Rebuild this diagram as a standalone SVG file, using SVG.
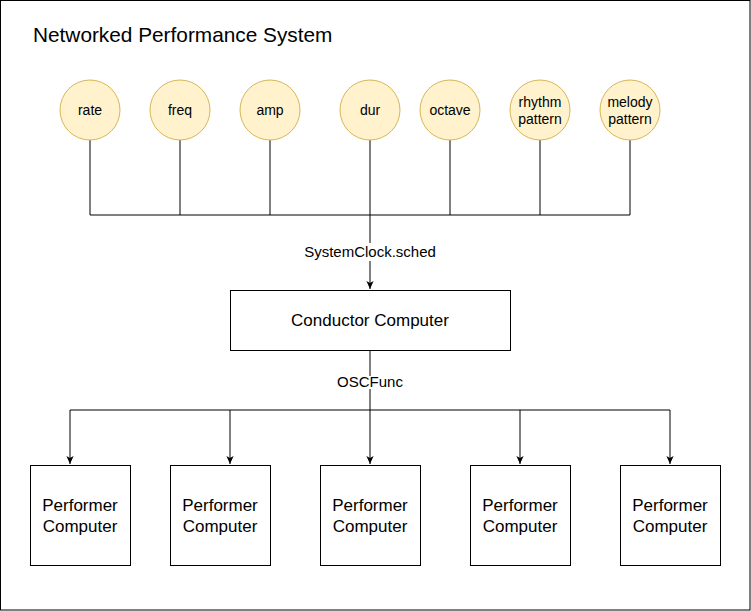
<svg xmlns="http://www.w3.org/2000/svg" width="751" height="611" viewBox="0 0 751 611">
<style>
text{font-family:"Liberation Sans",Arial,sans-serif;fill:#000;text-anchor:middle}
.p{fill:#fff2cc;stroke:#d6b656;stroke-width:1}
.b{fill:#fff;stroke:#000;stroke-width:1}
.c{fill:none;stroke:#000;stroke-width:1}
.s{font-size:14px}
.l{font-size:15px}
.m{font-size:17px}
</style>
<defs>
<marker id="a" viewBox="0 0 10 10" refX="10" refY="5" markerWidth="8" markerHeight="8" markerUnits="userSpaceOnUse" orient="auto">
<path d="M0,0.5 L10,5 L0,9.5 L2.5,5 Z" fill="#000"/>
</marker>
</defs>
<rect x="0.5" y="0.5" width="749.5" height="609.5" fill="#fff" stroke="#000"/>
<text x="33" y="42" style="font-size:20.8px;text-anchor:start">Networked Performance System</text>
<g id="connectors">
<path class="c" d="M90,140V215H630V140M180,140V215M270,140V215M450,140V215M540,140V215"/>
<path class="c" d="M370,140V289" marker-end="url(#a)"/>
<rect x="303" y="243" width="134" height="18" fill="#fff"/>
<text class="l" x="370" y="257">SystemClock.sched</text>
<path class="c" d="M370,350V464" marker-end="url(#a)"/>
<path class="c" d="M70,410H670"/>
<path class="c" d="M70,410V464" marker-end="url(#a)"/>
<path class="c" d="M230,410V464" marker-end="url(#a)"/>
<path class="c" d="M520,410V464" marker-end="url(#a)"/>
<path class="c" d="M670,410V464" marker-end="url(#a)"/>
<rect x="337" y="376" width="66" height="13" fill="#fff"/>
<text class="l" x="370" y="387">OSCFunc</text>
</g>
<g id="rate"><circle class="p" cx="90" cy="110" r="30"/><text class="s" x="90" y="115">rate</text></g>
<g id="freq"><circle class="p" cx="180" cy="110" r="30"/><text class="s" x="180" y="115">freq</text></g>
<g id="amp"><circle class="p" cx="270" cy="110" r="30"/><text class="s" x="270" y="115">amp</text></g>
<g id="dur"><circle class="p" cx="370" cy="110" r="30"/><text class="s" x="370" y="115">dur</text></g>
<g id="octave"><circle class="p" cx="450" cy="110" r="30"/><text class="s" x="450" y="115">octave</text></g>
<g id="rhythm"><circle class="p" cx="540" cy="110" r="30"/><text class="s" x="540" y="107">rhythm</text><text class="s" x="540" y="124">pattern</text></g>
<g id="melody"><circle class="p" cx="630" cy="110" r="30"/><text class="s" x="630" y="107">melody</text><text class="s" x="630" y="124">pattern</text></g>
<g id="conductor"><rect class="b" x="230.5" y="290.5" width="280" height="60"/><text class="m" x="370" y="326">Conductor Computer</text></g>
<g id="performer1"><rect class="b" x="30.5" y="465.5" width="100" height="100"/><text class="m" x="80" y="511">Performer</text><text class="m" x="80" y="532">Computer</text></g>
<g id="performer2"><rect class="b" x="170.5" y="465.5" width="100" height="100"/><text class="m" x="220" y="511">Performer</text><text class="m" x="220" y="532">Computer</text></g>
<g id="performer3"><rect class="b" x="320.5" y="465.5" width="100" height="100"/><text class="m" x="370" y="511">Performer</text><text class="m" x="370" y="532">Computer</text></g>
<g id="performer4"><rect class="b" x="470.5" y="465.5" width="100" height="100"/><text class="m" x="520" y="511">Performer</text><text class="m" x="520" y="532">Computer</text></g>
<g id="performer5"><rect class="b" x="620.5" y="465.5" width="100" height="100"/><text class="m" x="670" y="511">Performer</text><text class="m" x="670" y="532">Computer</text></g>
</svg>
